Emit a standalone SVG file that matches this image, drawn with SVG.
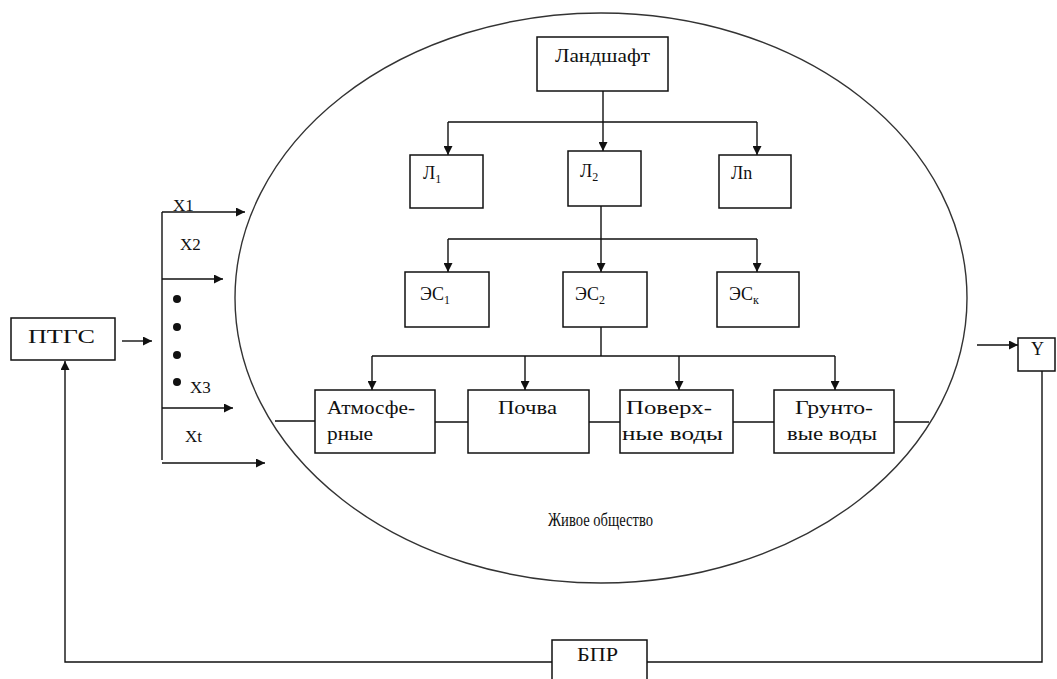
<svg xmlns="http://www.w3.org/2000/svg" width="1057" height="679" viewBox="0 0 1057 679">
<defs>
<marker id="ah" viewBox="0 0 10 10" refX="10" refY="5" markerWidth="9" markerHeight="9" orient="auto" markerUnits="userSpaceOnUse"><path d="M0,0 L10,5 L0,10 z" fill="#111"/></marker>
<style>
.box{fill:#fff;stroke:#111;stroke-width:1.5}
.ln{fill:none;stroke:#111;stroke-width:1.4}
.ar{fill:none;stroke:#111;stroke-width:1.4;marker-end:url(#ah)}
</style>
</defs>
<rect width="1057" height="679" fill="#fff"/>
<ellipse id="ellipse" cx="601" cy="298" rx="366" ry="285" fill="none" stroke="#333" stroke-width="1.4"/>
<g id="connectors">
<path class="ln" d="M603,91 V122 M448,122 H757"/>
<path class="ar" d="M603,122 V151"/>
<path class="ar" d="M448,122 V155"/>
<path class="ar" d="M757,122 V155"/>
<path class="ln" d="M601,206 V239 M448,239 H757"/>
<path class="ar" d="M448,239 V272"/>
<path class="ar" d="M601,239 V272"/>
<path class="ar" d="M757,239 V272"/>
<path class="ln" d="M601,327 V356 M372,356 H835"/>
<path class="ar" d="M372,356 V390"/>
<path class="ar" d="M525,356 V390"/>
<path class="ar" d="M679,356 V390"/>
<path class="ar" d="M835,356 V390"/>
<path class="ln" d="M275,421 H315 M435,422 H468 M589,422 H620 M733,422 H774 M894,422 H929"/>
<path class="ar" d="M122,341 H152"/>
<path class="ln" d="M162,212 V460"/>
<path class="ar" d="M162,212 H245"/>
<path class="ar" d="M162,279 H223"/>
<path class="ar" d="M162,408 H233"/>
<path class="ar" d="M162,463 H265"/>
<path class="ar" d="M977,345 H1018"/>
<path class="ln" d="M1042,371 V662 H647"/>
<path class="ar" d="M552,662 H65 V361"/>
</g>
<g font-family="'Liberation Serif', 'DejaVu Serif', serif" font-size="18" fill="#111">
<g id="inputs" font-size="17">
<text x="173" y="211">X1</text>
<text x="180" y="250">X2</text>
<circle cx="177" cy="299" r="4" fill="#111"/>
<circle cx="177" cy="327" r="4" fill="#111"/>
<circle cx="177" cy="355" r="4" fill="#111"/>
<circle cx="177" cy="382" r="4" fill="#111"/>
<text x="190" y="393">X3</text>
<text x="185" y="442">Xt</text>
</g>
<g id="landshaft"><rect class="box" x="537" y="37" width="131" height="54"/><text x="555" y="62" textLength="95" lengthAdjust="spacingAndGlyphs">Ландшафт</text></g>
<g id="l1"><rect class="box" x="410" y="155" width="73" height="53"/><text x="423" y="179">Л<tspan font-size="12" dy="4">1</tspan></text></g>
<g id="l2"><rect class="box" x="568" y="151" width="73" height="55"/><text x="580" y="177">Л<tspan font-size="12" dy="4">2</tspan></text></g>
<g id="ln"><rect class="box" x="719" y="155" width="72" height="53"/><text x="731" y="179">Лn</text></g>
<g id="es1"><rect class="box" x="405" y="272" width="84" height="55"/><text x="420" y="300">ЭС<tspan font-size="12" dy="4">1</tspan></text></g>
<g id="es2"><rect class="box" x="563" y="272" width="84" height="55"/><text x="575" y="300">ЭС<tspan font-size="12" dy="4">2</tspan></text></g>
<g id="esk"><rect class="box" x="717" y="272" width="82" height="55"/><text x="729" y="300">ЭС<tspan font-size="12" dy="4">к</tspan></text></g>
<g id="atm"><rect class="box" x="315" y="390" width="120" height="63"/><text x="327" y="414" textLength="88" lengthAdjust="spacingAndGlyphs">Атмосфе-</text><text x="327" y="440" textLength="46" lengthAdjust="spacingAndGlyphs">рные</text></g>
<g id="pochva"><rect class="box" x="468" y="390" width="121" height="63"/><text x="498" y="414" textLength="59" lengthAdjust="spacingAndGlyphs">Почва</text></g>
<g id="pov"><rect class="box" x="620" y="390" width="113" height="63"/><text x="626" y="414" textLength="86" lengthAdjust="spacingAndGlyphs">Поверх-</text><text x="622" y="440" textLength="101" lengthAdjust="spacingAndGlyphs">ные воды</text></g>
<g id="grunt"><rect class="box" x="774" y="390" width="120" height="63"/><text x="795" y="414" textLength="78" lengthAdjust="spacingAndGlyphs">Грунто-</text><text x="787" y="440" textLength="90" lengthAdjust="spacingAndGlyphs">вые воды</text></g>
<text x="548" y="526" textLength="105" lengthAdjust="spacingAndGlyphs">Живое общество</text>
<g id="pttgs"><rect class="box" x="11" y="318" width="104" height="42"/><text x="28" y="343" textLength="67" lengthAdjust="spacingAndGlyphs">ПТГС</text></g>
<g id="y"><rect class="box" x="1018" y="338" width="37" height="33"/><text x="1031" y="355">Y</text></g>
<g id="bpr"><rect class="box" x="552" y="640" width="95" height="45"/><text x="577" y="661" textLength="41" lengthAdjust="spacingAndGlyphs">БПР</text></g>
</g>
</svg>
